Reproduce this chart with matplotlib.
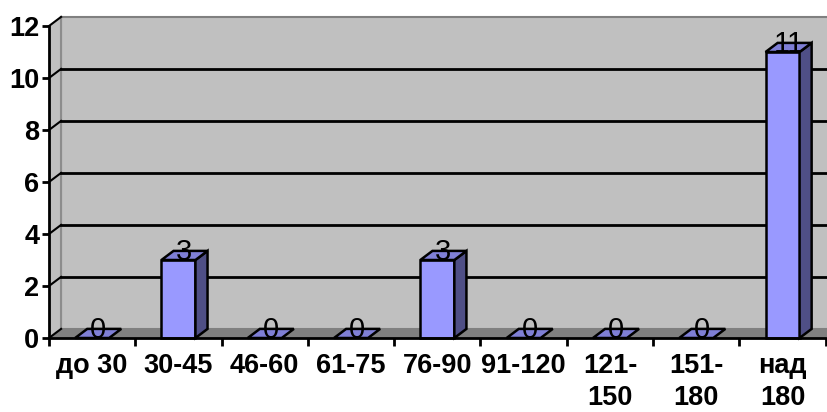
import numpy as np
import matplotlib.pyplot as plt
from matplotlib.patches import Polygon

plt.rcParams['font.family'] = ['Liberation Sans', 'DejaVu Sans']

categories = ['до 30', '30-45', '46-60', '61-75', '76-90', '91-120', '121-\n150', '151-\n180', 'над\n180']
values = [0, 3, 0, 0, 3, 0, 0, 0, 11]

# 3d look: depth offset in data units (x in categories, y in value units)
dx, dy = 0.14, 0.35
half = 0.197
front_c = '#9999FF'
top_c = '#7F7FD6'
side_c = '#4F4F86'

fig = plt.figure(figsize=(8.28, 4.12), dpi=100)
ax = fig.add_axes([49 / 828, 74 / 412, 776.7 / 828, 312 / 412])
ax.set_xlim(-0.5, len(categories) - 0.5)
ax.set_ylim(0, 12)
ax.patch.set_visible(False)

x0, x1 = -0.5, len(categories) - 0.5
y0, y1 = 0, 12


def poly(pts, fc, ec='none', lw=0, z=1):
    ax.add_patch(Polygon(pts, closed=True, facecolor=fc, edgecolor=ec, lw=lw,
                         zorder=z, clip_on=False, joinstyle='miter'))


# walls
poly([(x0 + dx, y0 + dy), (x1 + dx, y0 + dy), (x1 + dx, y1 + dy), (x0 + dx, y1 + dy)],
     '#C0C0C0', '#808080', 1.5, 0.5)
poly([(x0, y0), (x0 + dx, y0 + dy), (x0 + dx, y1 + dy), (x0, y1)], '#C0C0C0', 'none', 0, 0.6)
poly([(x0, y0), (x1, y0), (x1 + dx, y0 + dy), (x0 + dx, y0 + dy)], '#808080', 'none', 0, 0.6)
ax.plot([x0 + dx, x0 + dx], [y0 + dy, y1 + dy], color='#8C8C8C', lw=1.5, zorder=0.7, clip_on=False)

# gridlines on back wall and side wall
for v in range(2, 13, 2):
    if v < 12:
        ax.plot([x0 + dx, x1 + dx], [v + dy, v + dy], color='black', lw=2, zorder=0.8, clip_on=False)
    ax.plot([x0, x0 + dx], [v, v + dy], color='black', lw=1.5, zorder=0.8, clip_on=False)
ax.plot([x0, x0 + dx], [0, dy], color='black', lw=1.5, zorder=0.8, clip_on=False)

# bars
for i, v in enumerate(values):
    l, r = i - half, i + half
    if v > 0:
        poly([(l, 0), (r, 0), (r, v), (l, v)], front_c, 'black', 1.8, 2)
        poly([(r, 0), (r + dx, dy), (r + dx, v + dy), (r, v)], side_c, 'black', 1.8, 2)
    poly([(l, v), (r, v), (r + dx, v + dy), (l + dx, v + dy)], top_c, 'black', 1.8, 2)
    ax.text(i + dx / 2, v, str(v), ha='center', va='baseline', fontsize=21, zorder=3)

# axes
for s in ['top', 'right']:
    ax.spines[s].set_visible(False)
for s in ['left', 'bottom']:
    ax.spines[s].set_linewidth(2)
    ax.spines[s].set_zorder(2.5)

ax.set_yticks(range(0, 13, 2))
ax.set_yticklabels([str(t) for t in range(0, 13, 2)], fontsize=19.5, fontweight='bold')
ax.tick_params(axis='y', length=5, width=2, pad=2)

ax.set_xticks(np.arange(-0.5, len(categories), 1.0))
ax.set_xticklabels([])
ax.tick_params(axis='x', which='major', length=6, width=2, direction='out')
ax.set_xticks(np.arange(len(categories)), minor=True)
ax.set_xticklabels(categories, minor=True, fontsize=19.5, fontweight='bold', linespacing=1.3)
ax.tick_params(axis='x', which='minor', length=0, pad=11)

fig.savefig('out.png', dpi=100)
